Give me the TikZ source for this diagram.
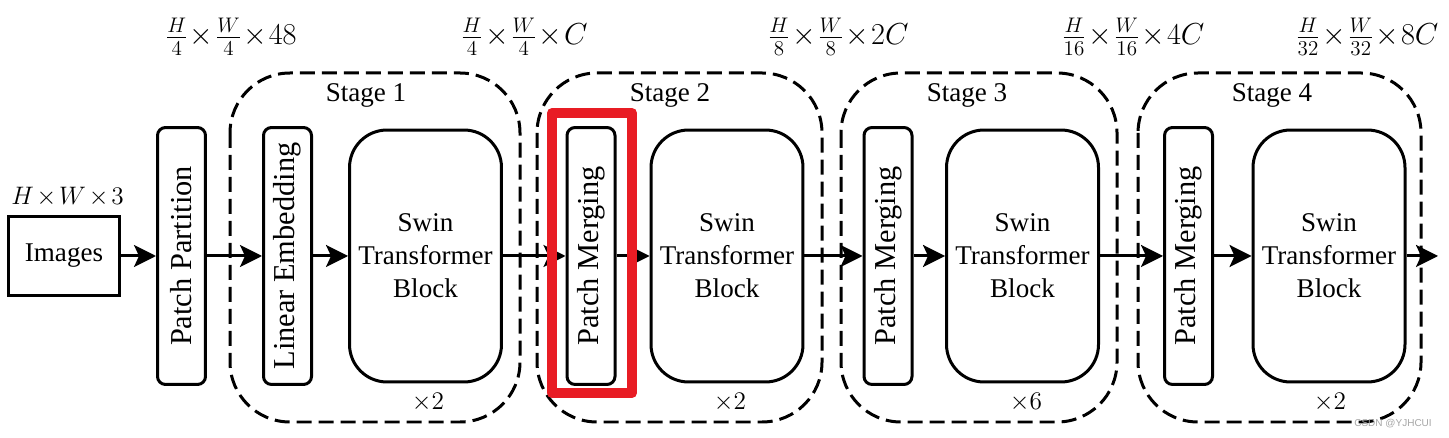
\documentclass[tikz,border=0pt]{standalone}
\usepackage[no-math]{fontspec}
\setmainfont{Liberation Serif}
\newfontfamily\wmfont{Liberation Sans}
\usetikzlibrary{arrows.meta}
\definecolor{hlred}{RGB}{232,28,36}
\newcommand\dimtxt[1]{$\medmuskip=2mu\relax #1$}
\newcommand\fracdim[1]{$\medmuskip=1mu\relax #1$}

\begin{document}
\begin{tikzpicture}[x=0.02cm,y=-0.02cm,
		lw/.style={line width=0.06cm},
		bar/.style={draw,lw,rotate=90,rounded corners=0.16cm,inner sep=0pt,minimum width=5.14cm,minimum height=0.96cm,font=\fontsize{17.3}{20}\selectfont},
		swin/.style={draw,lw,rounded corners=0.75cm,inner sep=0pt,minimum width=3.04cm,minimum height=5.04cm,align=center,font=\fontsize{15.4}{18.8}\selectfont},
		stagebox/.style={lw,rounded corners=1.2cm,dash pattern=on 0.3cm off 0.14cm},
		lab/.style={font=\fontsize{15.4}{18}\selectfont},
		toplab/.style={font=\fontsize{17.5}{20}\selectfont},
		arr/.style={lw,-{Stealth[length=0.44cm,width=0.44cm,inset=0.1cm]}}]
		\useasboundingbox (0,0) rectangle (1449,438);
		\draw[stagebox](230,73) rectangle (520,422);
		\draw[stagebox](537,73) rectangle (822,422);
		\draw[stagebox](841,73) rectangle (1117,422);
		\draw[stagebox](1138,73) rectangle (1421,422);
		\node[draw,lw,minimum width=2.24cm,minimum height=1.6cm,lab] (img) at (64,256) {Images};
		\node[bar] (pp) at (181.5,256) {Patch Partition};
		\node[bar] (le) at (287.5,256) {Linear Embedding};
		\node[swin] (sw1) at (425.5,256) {Swin\\Transformer\\Block};
		\node[bar] (pm2) at (591,256) {Patch Merging};
		\node[swin] (sw2) at (727,256) {Swin\\Transformer\\Block};
		\node[bar] (pm3) at (888,256) {Patch Merging};
		\node[swin] (sw3) at (1022.5,256) {Swin\\Transformer\\Block};
		\node[bar] (pm4) at (1188.5,256) {Patch Merging};
		\node[swin] (sw4) at (1329,256) {Swin\\Transformer\\Block};
		\coordinate (out) at (1438,256);
		\draw[arr](img) -- (pp);
		\draw[arr](pp) -- (le);
		\draw[arr](le) -- (sw1);
		\draw[arr](sw1) -- (pm2);
		\draw[arr](pm2) -- (sw2);
		\draw[arr](sw2) -- (pm3);
		\draw[arr](pm3) -- (sw3);
		\draw[arr](sw3) -- (pm4);
		\draw[arr](pm4) -- (sw4);
		\draw[arr](sw4) -- (out);
		\draw[line width=0.2cm,hlred,line join=round](552,113) rectangle (632,393);
		\node[lab] (in) at (67.5,197) {\dimtxt{H\times W\times 3}};
		\node[toplab] (d1) at (231,37) {\fracdim{\frac{H}{4}\times\frac{W}{4}\times 48}};
		\node[toplab] (d2) at (524,37) {\fracdim{\frac{H}{4}\times\frac{W}{4}\times C}};
		\node[toplab] (d3) at (838,37) {\fracdim{\frac{H}{8}\times\frac{W}{8}\times 2C}};
		\node[toplab] (d4) at (1133,37) {\fracdim{\frac{H}{16}\times\frac{W}{16}\times 4C}};
		\node[toplab] (d5) at (1367,37) {\fracdim{\frac{H}{32}\times\frac{W}{32}\times 8C}};
		\node[lab] (s1) at (366,95) {Stage 1};
		\node[lab] (s2) at (670,95) {Stage 2};
		\node[lab] (s3) at (967,95) {Stage 3};
		\node[lab] (s4) at (1272,95) {Stage 4};
		\node[lab] (n1) at (428,402) {\dimtxt{\times 2}};
		\node[lab] (n2) at (730,402) {\dimtxt{\times 2}};
		\node[lab] (n3) at (1026,402) {\dimtxt{\times 6}};
		\node[lab] (n4) at (1330,402) {\dimtxt{\times 2}};
		\node[text=black!35,font=\wmfont\fontsize{5.7}{7}\selectfont] (wm) at (1393,424) {CSDN @YJHCUI};
\end{tikzpicture}
\end{document}
